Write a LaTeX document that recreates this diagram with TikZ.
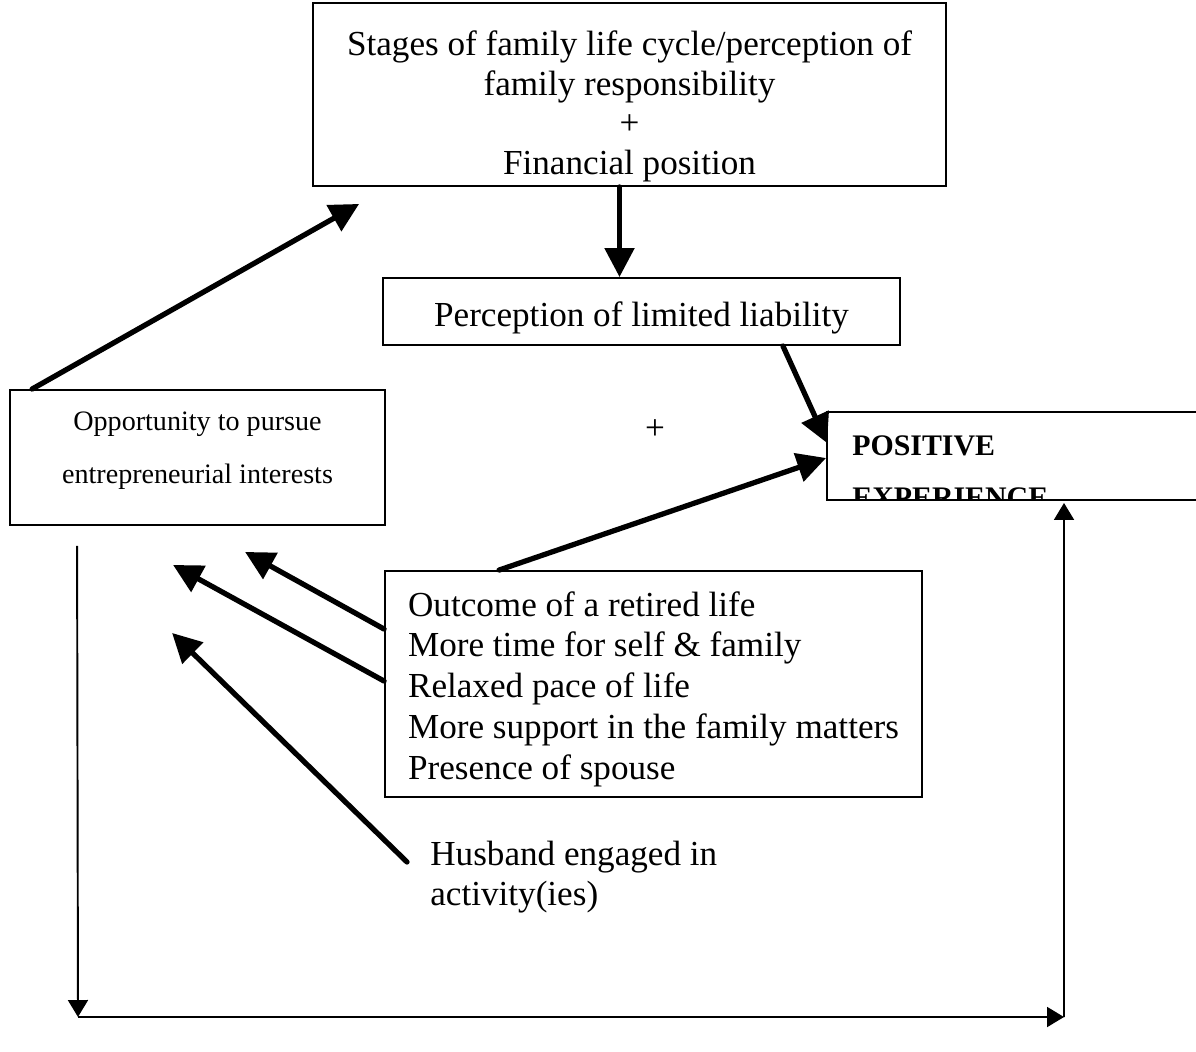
\documentclass[tikz,border=0pt]{standalone}
\usepackage{fontspec}
\setmainfont{Liberation Serif}
\usetikzlibrary{arrows.meta, calc}

\begin{document}
\begin{tikzpicture}[x=0.02cm, y=-0.02cm,
  box/.style={draw, line width=1.1pt, inner sep=0pt},
  label/.style={inner sep=0pt, align=center, font=\fontsize{20}{22.5}\selectfont},
  thickarrow/.style={-{Triangle[length=0.58cm, width=0.58cm]}, line width=3pt, line cap=round},
  thinarrow/.style={-{Triangle[length=0.34cm, width=0.4cm]}, line width=1.1pt}
]
  \clip (0,0) rectangle (1196,1051);

  % boxes
  \node[box, minimum width=12.66cm, minimum height=3.66cm] (stages) at (629.5,94.5) {};
  \node[box, minimum width=10.34cm, minimum height=1.34cm] (limited) at (641.5,311.5) {};
  \node[box, minimum width=7.5cm, minimum height=2.7cm] (opportunity) at (197.5,457.5) {};
  \node[box, minimum width=10.74cm, minimum height=4.52cm] (outcome) at (653.5,684) {};
  \node[box, minimum width=8.46cm, minimum height=1.76cm] (positive) at (1038.5,456) {};

  % texts
  \node[label] (stagestext) at (629.5,106.5)
    {Stages of family life cycle/perception of\\family responsibility\\+\\Financial position};
  \node[label] (limitedtext) at (641.5,317.5) {Perception of limited liability};
  \node[label, font=\fontsize{16}{30}\selectfont] (opportunitytext) at (197.5,451)
    {Opportunity to pursue\\entrepreneurial interests};
  \node[label, align=left, font=\fontsize{20}{23.2}\selectfont] (outcometext) at (653.5,689)
    {Outcome of a retired life\\More time for self \& family\\Relaxed pace of life\\More support in the family matters\\Presence of spouse};
  \begin{scope}
    \clip (827,412) rectangle (1196,500);
    \node[inner sep=0pt, anchor=base west, font=\fontsize{17}{20}\selectfont\bfseries] (posline) at (852,455) {POSITIVE};
    \node[inner sep=0pt, anchor=base west, font=\fontsize{17}{20}\selectfont\bfseries] (expline) at (852,507) {EXPERIENCE};
  \end{scope}
  \node[label] (plus) at (655,430) {+};
  \node[label, align=left, anchor=west] (husband) at (430,877) {Husband engaged in\\activity(ies)};

  % thick arrows
  \draw[thickarrow] ($(opportunity.north west)+(23,0)$) -- ($(stages.south west)+(47,17)$);
  \draw[thickarrow] ($(stages.south)+(-10,0)$) -- ($(limited.north)+(-22,0)$);
  \draw[thickarrow] ($(limited.south east)+(-118,0)$) -- ($(positive.west)+(1,-13)$);
  \draw[thickarrow] ($(outcome.north west)+(115,0)$) -- ($(positive.west)+(0,2)$);
  \draw[thickarrow] ($(outcome.north west)+(0,59)$) -- ($(opportunity.south west)+(236,26)$);
  \draw[thickarrow] ($(outcome.north west)+(0,111)$) -- ($(opportunity.south west)+(164,39)$);
  \draw[thickarrow] ($(husband.west)+(-23,-15)$) -- ($(opportunity.south west)+(163,107)$);

  % feedback loop
  \coordinate (loopleft) at (78,1017);
  \coordinate (loopright) at (1064,1017);
  \draw[thinarrow] ($(opportunity.south west)+(68,20)$) -- (loopleft);
  \draw[thinarrow] (loopleft) -- (loopright);
  \draw[thinarrow] (loopright) -- ($(positive.south)+(25.5,2)$);
\end{tikzpicture}
\end{document}
